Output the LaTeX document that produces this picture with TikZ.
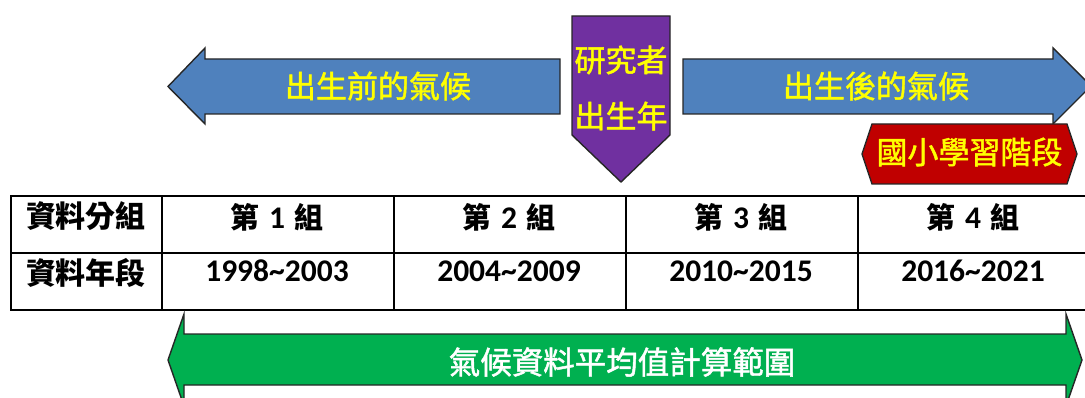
\documentclass[tikz,border=0pt]{standalone}
\usepackage{fontspec}
\newfontfamily\cjk{Noto Sans CJK TC}
\newfontfamily\cjkm[FakeBold=1.5]{Noto Sans CJK TC}
\newfontfamily\calib{Carlito}
\definecolor{arrowblue}{HTML}{4F81BD}
\definecolor{birthpurple}{HTML}{7030A0}
\definecolor{schoolred}{HTML}{C00000}
\definecolor{rangegreen}{HTML}{00B050}
\definecolor{labelyellow}{HTML}{FFFF00}
\newcommand{\grpcell}[1]{第\hspace{10pt}{\calib\bfseries\fontsize{31.5}{34}\selectfont #1}\hspace{10pt}組}
\tikzset{
  shapeline/.style={draw=black!85, line width=1.4pt, line join=miter},
  ylabel/.style={text=labelyellow, font=\cjkm\fontsize{31}{35}\selectfont, inner sep=0pt},
  wlabel/.style={text=white, font=\cjkm\fontsize{31.5}{35}\selectfont, inner sep=0pt},
  cell/.style={draw=black, line width=1.6pt, minimum height=57pt, inner sep=0pt, anchor=north west},
  celltext/.style={text=black, inner sep=0pt},
  hdr/.style={celltext, font=\cjk\bfseries\fontsize{30}{34}\selectfont},
  grp/.style={celltext, font=\cjk\bfseries\fontsize{29}{32}\selectfont},
  yrs/.style={celltext, font=\calib\bfseries\fontsize{31.5}{34}\selectfont},
}
\begin{document}
\begin{tikzpicture}[x=1pt,y=-1pt]
\useasboundingbox (0,0) rectangle (1085,398);
\clip (0,0) rectangle (1085,398);
% left blue arrow
\fill[arrowblue] (560,59) -- (205,59) -- (205,48) -- (168,86.5) -- (205,124) -- (205,114) -- (560,114) -- cycle;
\draw[shapeline] (560,59) -- (205,59) -- (205,48) -- (168,86.5) -- (205,124) -- (205,114) -- (560,114) -- cycle;
\node[ylabel] (before) at (378,86) {出生前的氣候};
% right blue arrow
\fill[arrowblue] (683,59) -- (1053,59) -- (1053,48) -- (1091,86) -- (1053,124) -- (1053,114) -- (683,114) -- cycle;
\draw[shapeline] (683,59) -- (1053,59) -- (1053,48) -- (1091,86) -- (1053,124) -- (1053,114) -- (683,114) -- cycle;
\node[ylabel] (after) at (876,86) {出生後的氣候};
% purple pentagon
\fill[birthpurple] (572,16) -- (670,16) -- (670,135) -- (621,182) -- (572,135) -- cycle;
\draw[shapeline] (572,16) -- (670,16) -- (670,135) -- (621,182) -- (572,135) -- cycle;
\node[ylabel] (res) at (621,60) {研究者};
\node[ylabel] (birth) at (621,116) {出生年};
% red hexagon
\fill[schoolred] (862,154) -- (872,124) -- (1067,124) -- (1077,154) -- (1067,184) -- (872,184) -- cycle;
\draw[shapeline] (862,154) -- (872,124) -- (1067,124) -- (1077,154) -- (1067,184) -- (872,184) -- cycle;
\node[ylabel] (school) at (969.5,152) {國小學習階段};
% table
\node[cell, minimum width=151pt] (c00) at (10,195) {};
\node[cell, minimum width=232pt] (c01) at (161,195) {};
\node[cell, minimum width=232pt] (c02) at (393,195) {};
\node[cell, minimum width=232pt] (c03) at (625,195) {};
\node[cell, minimum width=236pt] (c04) at (857,195) {};
\node[cell, minimum width=151pt] (c10) at (10,252) {};
\node[cell, minimum width=232pt] (c11) at (161,252) {};
\node[cell, minimum width=232pt] (c12) at (393,252) {};
\node[cell, minimum width=232pt] (c13) at (625,252) {};
\node[cell, minimum width=236pt] (c14) at (857,252) {};
\node[hdr] (t00) at (86,216) {資料分組};
\node[grp] (t01) at (277,217) {\grpcell{1}};
\node[grp] (t02) at (509,217) {\grpcell{2}};
\node[grp] (t03) at (741,217) {\grpcell{3}};
\node[grp] (t04) at (973,217) {\grpcell{4}};
\node[hdr] (t10) at (86,273) {資料年段};
\node[yrs] (t11) at (277,271) {1998\textasciitilde 2003};
\node[yrs] (t12) at (509,271) {2004\textasciitilde 2009};
\node[yrs] (t13) at (741,271) {2010\textasciitilde 2015};
\node[yrs] (t14) at (973,271) {2016\textasciitilde 2021};
% green double arrow
\fill[rangegreen] (184,334) -- (1066,334) -- (1066,314) -- (1082,360) -- (1066,406) -- (1066,385) -- (184,385) -- (184,406) -- (168,360) -- (184,314) -- cycle;
\draw[shapeline] (184,334) -- (1066,334) -- (1066,314) -- (1082,360) -- (1066,406) -- (1066,385) -- (184,385) -- (184,406) -- (168,360) -- (184,314) -- cycle;
\node[wlabel] (range) at (622,362) {氣候資料平均值計算範圍};
\end{tikzpicture}
\end{document}
